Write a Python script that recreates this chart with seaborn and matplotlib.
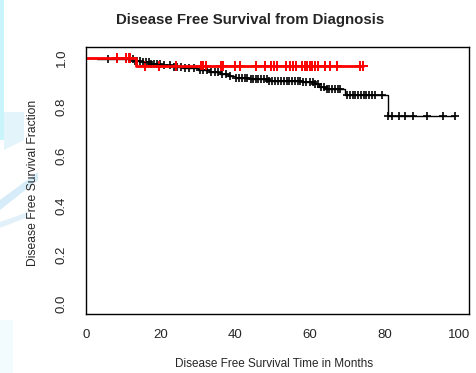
import numpy as np
import pandas as pd
import matplotlib
matplotlib.use("Agg")
import matplotlib.pyplot as plt
import seaborn as sns
from matplotlib.patches import Polygon

# Group 1 (black): event times (months) and survival fraction after each event
black_event_t = [3, 13, 15, 17, 20, 23, 26, 30, 33, 36, 38, 40, 44, 49, 58, 61, 62.5, 64, 69.5, 81]
black_surv = [0.995, 0.988, 0.982, 0.976, 0.970, 0.963, 0.957, 0.950, 0.943, 0.935,
              0.927, 0.918, 0.913, 0.907, 0.900, 0.893, 0.880, 0.872, 0.847, 0.763]
black_censor_t = [6, 12.5, 13.2, 13.8, 14.5, 15.2, 16, 16.8, 17.5, 18.2, 19, 19.8, 21,
                  22.5, 23.5, 24.5, 25.5, 26.5, 27.5, 29, 30.5, 31.5, 32.5, 33.5, 34.5,
                  35.5, 36.5, 37.5, 38.5, 40.2, 41, 41.8, 42.5, 43.2, 44.2, 44.8, 45.5,
                  46.2, 47, 47.8, 48.5, 49.2, 50, 50.8, 51.5, 52.2, 53, 53.8, 54.5, 55.2,
                  56, 56.8, 57.5, 58.2, 59, 60, 60.8, 61.5, 62.2, 63, 63.8, 64.5, 65.2,
                  66, 66.8, 67.5, 68.2, 70, 70.8, 71.5, 72.2, 73, 73.8, 74.5, 75.2, 76,
                  76.8, 77.5, 79.3, 81, 82, 83.8, 85.6, 87.6, 91.4, 95.8, 99]

# Group 2 (red)
red_event_t = [13.3]
red_surv = [0.967]
red_censor_t = [8.3, 10.8, 11.5, 11.8, 15.7, 19.7, 24.2, 30.9, 31.5, 32.3, 36.3, 36.7,
                39.9, 41.2, 45.5, 47.9, 49.5, 50.5, 51.1, 53.6, 54.6, 55.5, 56.4, 57.8,
                58.7, 59.3, 60, 60.5, 61.4, 62.3, 64, 65.4, 67.4, 73.5, 74.2]

x_ticks = [0, 20, 40, 60, 80, 100]
y_ticks = [0.0, 0.2, 0.4, 0.6, 0.8, 1.0]


def km_frame(event_t, surv, censor_t):
    t = [0.0] + list(event_t) + [max(censor_t)]
    s = [1.0] + list(surv) + [surv[-1]]
    return pd.DataFrame({"t": t, "s": s})


def censor_frame(event_t, surv, censor_t):
    idx = np.searchsorted(event_t, censor_t, side="right")
    s = np.r_[1.0, surv][idx]
    return pd.DataFrame({"t": censor_t, "s": s})


sns.set_style("white")
plt.rcParams["font.family"] = ["Liberation Sans", "DejaVu Sans"]

fig = plt.figure(figsize=(4.77, 3.73), dpi=100)

# faint watermark on the left edge
bg = fig.add_axes([0, 0, 1, 1], zorder=-5)
bg.set_xlim(0, 477)
bg.set_ylim(373, 0)
bg.axis("off")
bg.add_patch(Polygon([(0, 0), (4, 0), (4, 140), (0, 140)], color="#c9f4fc", lw=0))
bg.add_patch(Polygon([(4, 112), (24, 112), (24, 140), (4, 150)], color="#e4f4fb", lw=0))
bg.add_patch(Polygon([(0, 200), (38, 172), (38, 180), (0, 210)], color="#d6ecf8", lw=0))
bg.add_patch(Polygon([(0, 222), (28, 212), (28, 217), (0, 228)], color="#e2f1f9", lw=0))
bg.add_patch(Polygon([(0, 320), (13, 320), (13, 373), (0, 373)], color="#f2fcfe", lw=0))

ax = fig.add_axes([0.1803, 0.158, 0.803, 0.716])

black = km_frame(black_event_t, black_surv, black_censor_t)
red = km_frame(red_event_t, red_surv, red_censor_t)

sns.lineplot(data=black, x="t", y="s", ax=ax, color="black", lw=1.0,
             drawstyle="steps-post", estimator=None, sort=False)
sns.lineplot(data=red, x="t", y="s", ax=ax, color="red", lw=2.0,
             drawstyle="steps-post", estimator=None, sort=False)
sns.scatterplot(data=censor_frame(black_event_t, black_surv, black_censor_t), x="t", y="s",
                ax=ax, marker="+", s=40, color="black", linewidth=1.2)
sns.scatterplot(data=censor_frame(red_event_t, red_surv, red_censor_t), x="t", y="s",
                ax=ax, marker="+", s=50, color="red", linewidth=1.4)

ax.set_xlim(0, 102.7)
ax.set_ylim(-0.04, 1.043)
ax.set_xticks(x_ticks)
ax.set_xticklabels([str(v) for v in x_ticks])
ax.set_yticks(y_ticks)
ax.set_yticklabels([f"{v:.1f}" for v in y_ticks], rotation=90, va="center")
ax.tick_params(axis="both", direction="out", length=6, width=0.8, color="black",
               labelsize=9.5)
ax.tick_params(axis="x", pad=5)
ax.tick_params(axis="y", pad=7)
for sp in ax.spines.values():
    sp.set_color("black")
    sp.set_linewidth(1.0)
ax.set_xlabel("")
ax.set_ylabel("")

fig.text(250 / 477, 1 - 20 / 373, "Disease Free Survival from Diagnosis",
         ha="center", va="center", fontsize=10.8, fontweight="bold")
fig.text(274 / 477, 1 - 364 / 373, "Disease Free Survival Time in Months",
         ha="center", va="center", fontsize=8.5)
fig.text(33 / 477, 1 - 183 / 373, "Disease Free Survival Fraction",
         ha="center", va="center", fontsize=8.7, rotation=90)

fig.savefig("out.png", dpi=100)
